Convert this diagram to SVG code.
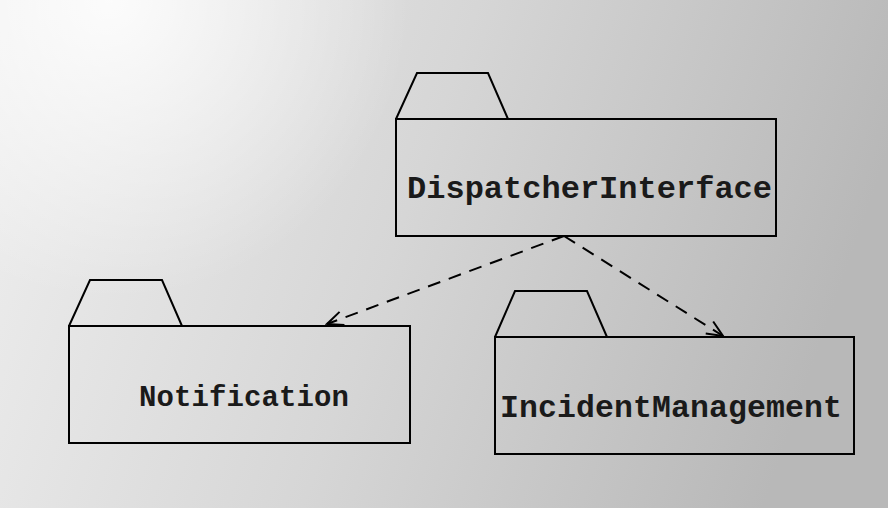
<svg xmlns="http://www.w3.org/2000/svg" width="888" height="508" viewBox="0 0 888 508">
<defs>
<linearGradient id="bg" x1="0" y1="0.1" x2="1" y2="0.3">
<stop offset="0" stop-color="#eeeeee"/>
<stop offset="0.5" stop-color="#d6d6d6"/>
<stop offset="1" stop-color="#b8b8b8"/>
</linearGradient>
<radialGradient id="hl" cx="110" cy="0" r="300" gradientUnits="userSpaceOnUse">
<stop offset="0" stop-color="#ffffff" stop-opacity="0.85"/>
<stop offset="1" stop-color="#ffffff" stop-opacity="0"/>
</radialGradient>
<marker id="open" viewBox="0 0 20 20" refX="18" refY="10" markerWidth="20" markerHeight="20" markerUnits="userSpaceOnUse" orient="auto">
<path d="M2,3 L18,10 L2,17" fill="none" stroke="#000" stroke-width="2"/>
</marker>
<style>
.box{fill:none;stroke:#000;stroke-width:2}
.lbl{font-family:"Liberation Mono","Courier New",monospace;font-weight:bold;fill:#1a1a1a}
.dep{fill:none;stroke:#000;stroke-width:2;stroke-dasharray:13,9}
</style>
</defs>
<rect width="888" height="508" fill="url(#bg)"/>
<rect width="888" height="508" fill="url(#hl)"/>
<g id="connectors">
<path class="dep" d="M564,236 L327,324" marker-end="url(#open)"/>
<path class="dep" d="M564,236 L723,336" marker-end="url(#open)"/>
</g>
<g id="DispatcherInterface">
<polyline class="box" points="396,119 417,73 488,73 508,119"/>
<rect class="box" x="396" y="119" width="380" height="117"/>
<text class="lbl" x="407" y="198" font-size="32" textLength="365">DispatcherInterface</text>
</g>
<g id="Notification">
<polyline class="box" points="69,326 90,280 162,280 182,326"/>
<rect class="box" x="69" y="326" width="341" height="117"/>
<text class="lbl" x="139" y="406" font-size="29" textLength="210">Notification</text>
</g>
<g id="IncidentManagement">
<polyline class="box" points="495,337 515,291 587,291 607,337"/>
<rect class="box" x="495" y="337" width="359" height="117"/>
<text class="lbl" x="500" y="417" font-size="31.5" textLength="342">IncidentManagement</text>
</g>
</svg>
